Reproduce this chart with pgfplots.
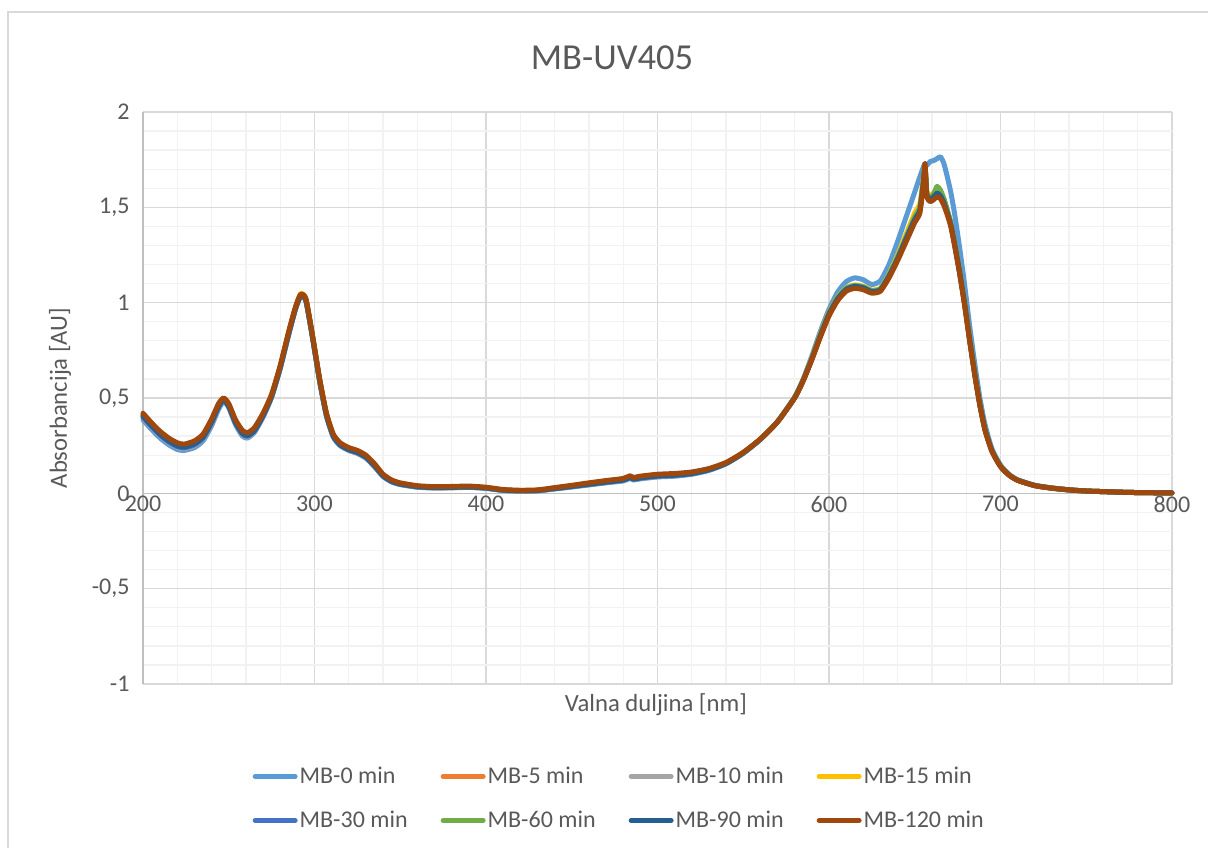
\documentclass[border=0pt]{standalone}
\usepackage{pgfplots}
\pgfplotsset{compat=1.18}
\usepackage{pgfplotstable}
\usepackage{fontspec}
\setmainfont{Carlito}

\definecolor{txtgray}{HTML}{595959}
\definecolor{axgray}{HTML}{BFBFBF}
\definecolor{majgrid}{HTML}{D9D9D9}
\definecolor{mingrid}{HTML}{F2F2F2}
\definecolor{c0}{HTML}{5B9BD5}
\definecolor{c5}{HTML}{ED7D31}
\definecolor{c10}{HTML}{A5A5A5}
\definecolor{c15}{HTML}{FFC000}
\definecolor{c30}{HTML}{4472C4}
\definecolor{c60}{HTML}{70AD47}
\definecolor{c90}{HTML}{255E91}
\definecolor{c120}{HTML}{9E480E}

% wavelength [nm] and absorbance of each sample
\pgfplotstableread{
x   b0    b5    b10   b15   b30   b60   b90   b120
200 0.385 0.41  0.395 0.415 0.40  0.41  0.405 0.42
205 0.335 0.36  0.345 0.365 0.35  0.36  0.355 0.37
210 0.29  0.315 0.30  0.32  0.305 0.315 0.31  0.325
215 0.255 0.28  0.265 0.285 0.27  0.28  0.275 0.29
220 0.23  0.255 0.24  0.26  0.245 0.255 0.25  0.265
224 0.225 0.248 0.233 0.253 0.238 0.248 0.243 0.258
230 0.24  0.265 0.25  0.27  0.255 0.265 0.26  0.275
235 0.275 0.30  0.285 0.305 0.29  0.30  0.295 0.31
240 0.355 0.38  0.365 0.385 0.37  0.38  0.375 0.39
244 0.44  0.46  0.445 0.465 0.45  0.46  0.455 0.47
247 0.48  0.495 0.485 0.50  0.49  0.495 0.49  0.50
250 0.45  0.462 0.452 0.467 0.455 0.462 0.457 0.47
254 0.36  0.375 0.363 0.38  0.368 0.375 0.37  0.385
258 0.30  0.32  0.305 0.325 0.31  0.32  0.315 0.33
261 0.29  0.308 0.295 0.313 0.30  0.308 0.303 0.318
265 0.32  0.335 0.322 0.34  0.327 0.335 0.33  0.345
270 0.40  0.412 0.402 0.417 0.405 0.412 0.408 0.42
275 0.505 0.513 0.505 0.517 0.508 0.513 0.51  0.52
280 0.655 0.663 0.655 0.667 0.658 0.663 0.66  0.67
285 0.835 0.843 0.835 0.847 0.838 0.843 0.84  0.85
289 0.97  0.975 0.968 0.978 0.97  0.975 0.972 0.98
292 1.035 1.04  1.033 1.048 1.036 1.04  1.037 1.045
295 1.01  1.015 1.008 1.02  1.01  1.015 1.012 1.02
299 0.81  0.815 0.808 0.818 0.81  0.815 0.812 0.82
303 0.59  0.595 0.588 0.598 0.59  0.595 0.592 0.60
307 0.405 0.412 0.405 0.417 0.408 0.412 0.41  0.42
311 0.295 0.302 0.295 0.307 0.298 0.302 0.30  0.31
315 0.25  0.257 0.25  0.262 0.253 0.257 0.255 0.265
320 0.225 0.232 0.225 0.237 0.228 0.232 0.23  0.24
325 0.21  0.217 0.21  0.222 0.213 0.217 0.215 0.225
330 0.185 0.192 0.185 0.197 0.188 0.192 0.19  0.20
335 0.14  0.147 0.14  0.152 0.143 0.147 0.145 0.155
340 0.088 0.094 0.089 0.097 0.091 0.094 0.092 0.10
345 0.06  0.065 0.061 0.067 0.062 0.065 0.063 0.07
350 0.046 0.05  0.047 0.052 0.048 0.05  0.049 0.055
360 0.032 0.036 0.033 0.037 0.034 0.036 0.035 0.04
370 0.028 0.031 0.029 0.032 0.03  0.031 0.03  0.035
380 0.029 0.032 0.03  0.033 0.031 0.032 0.031 0.036
390 0.031 0.034 0.032 0.035 0.033 0.034 0.033 0.038
400 0.026 0.029 0.027 0.03  0.028 0.029 0.028 0.032
410 0.015 0.017 0.016 0.018 0.016 0.017 0.017 0.02
420 0.012 0.014 0.013 0.015 0.013 0.014 0.014 0.016
430 0.013 0.015 0.014 0.016 0.015 0.015 0.015 0.018
440 0.023 0.026 0.024 0.027 0.025 0.026 0.025 0.03
450 0.033 0.037 0.035 0.038 0.036 0.037 0.036 0.042
460 0.044 0.049 0.046 0.05  0.047 0.049 0.048 0.055
470 0.055 0.06  0.057 0.062 0.058 0.06  0.059 0.067
480 0.065 0.071 0.067 0.073 0.069 0.071 0.07  0.078
484 0.078 0.085 0.08  0.087 0.082 0.085 0.083 0.092
486 0.07  0.076 0.072 0.078 0.074 0.076 0.075 0.083
490 0.076 0.083 0.078 0.085 0.08  0.083 0.081 0.09
500 0.086 0.093 0.088 0.095 0.09  0.093 0.091 0.10
510 0.09  0.097 0.092 0.099 0.094 0.097 0.095 0.104
520 0.10  0.106 0.102 0.107 0.103 0.106 0.104 0.112
530 0.12  0.125 0.122 0.126 0.123 0.125 0.124 0.13
540 0.155 0.158 0.156 0.159 0.157 0.158 0.157 0.162
550 0.21  0.212 0.211 0.213 0.211 0.212 0.212 0.215
560 0.283 0.284 0.283 0.285 0.284 0.284 0.284 0.285
570 0.376 0.376 0.375 0.377 0.375 0.376 0.375 0.375
580 0.505 0.503 0.502 0.504 0.502 0.503 0.502 0.50
585 0.60  0.595 0.593 0.597 0.593 0.595 0.593 0.59
590 0.72  0.708 0.705 0.71  0.705 0.708 0.705 0.70
595 0.85  0.832 0.828 0.835 0.828 0.832 0.828 0.82
600 0.965 0.945 0.94  0.948 0.94  0.945 0.94  0.93
605 1.055 1.025 1.02  1.028 1.02  1.025 1.02  1.01
610 1.11  1.075 1.07  1.078 1.07  1.075 1.07  1.06
615 1.13  1.09  1.085 1.093 1.085 1.09  1.085 1.075
620 1.12  1.083 1.078 1.086 1.078 1.083 1.078 1.068
625 1.095 1.063 1.058 1.066 1.058 1.063 1.058 1.05
630 1.115 1.073 1.068 1.076 1.068 1.073 1.068 1.06
635 1.20  1.145 1.14  1.15  1.14  1.145 1.14  1.13
640 1.32  1.24  1.235 1.25  1.235 1.24  1.23  1.22
645 1.45  1.35  1.34  1.36  1.34  1.345 1.335 1.32
650 1.58  1.45  1.44  1.47  1.44  1.45  1.435 1.42
653 1.66  1.50  1.49  1.52  1.49  1.50  1.485 1.47
655 1.71  1.64  1.63  1.65  1.63  1.64  1.625 1.62
656 1.73  1.72  1.71  1.72  1.715 1.72  1.71  1.73
657 1.72  1.58  1.57  1.585 1.57  1.575 1.565 1.56
659 1.74  1.55  1.545 1.56  1.545 1.55  1.54  1.53
661 1.745 1.565 1.56  1.575 1.565 1.57  1.555 1.54
663 1.755 1.59  1.57  1.585 1.60  1.61  1.575 1.555
665 1.765 1.575 1.56  1.57  1.58  1.59  1.56  1.545
667 1.73  1.54  1.525 1.535 1.54  1.545 1.525 1.51
669 1.66  1.48  1.47  1.478 1.48  1.485 1.47  1.46
671 1.58  1.415 1.41  1.415 1.415 1.42  1.41  1.40
673 1.48  1.325 1.32  1.325 1.325 1.33  1.32  1.31
676 1.30  1.175 1.17  1.175 1.175 1.178 1.17  1.16
679 1.10  1.005 1.0   1.005 1.005 1.007 1.0   0.99
682 0.88  0.812 0.808 0.812 0.812 0.815 0.808 0.80
685 0.68  0.63  0.627 0.63  0.63  0.632 0.627 0.62
688 0.50  0.467 0.465 0.467 0.467 0.468 0.465 0.46
691 0.36  0.336 0.335 0.336 0.336 0.337 0.335 0.33
695 0.235 0.224 0.223 0.224 0.224 0.225 0.223 0.22
700 0.148 0.143 0.142 0.143 0.143 0.143 0.142 0.14
705 0.10  0.097 0.096 0.097 0.097 0.097 0.096 0.095
710 0.071 0.069 0.069 0.069 0.069 0.069 0.069 0.068
720 0.042 0.041 0.041 0.041 0.041 0.041 0.041 0.04
730 0.028 0.028 0.027 0.028 0.027 0.028 0.027 0.027
740 0.019 0.018 0.018 0.018 0.018 0.018 0.018 0.018
750 0.012 0.012 0.012 0.012 0.012 0.012 0.012 0.012
760 0.009 0.009 0.009 0.009 0.009 0.009 0.009 0.009
770 0.006 0.006 0.006 0.006 0.006 0.006 0.006 0.006
780 0.004 0.004 0.004 0.004 0.004 0.004 0.004 0.004
790 0.003 0.003 0.003 0.003 0.003 0.003 0.003 0.003
800 0.002 0.002 0.002 0.002 0.002 0.002 0.002 0.002
}\spectra

\begin{document}
\begin{tikzpicture}[x=1pt,y=1pt]
\useasboundingbox (0,0) rectangle (1208,847);
\draw[majgrid, line width=1.3pt] (8,835) rectangle (1240,-30);
\node[font=\fontsize{36.6}{44}\selectfont, text=txtgray] at (612,789) {MB-UV405};
\begin{axis}[
    at={(143pt,163pt)}, anchor=south west,
    scale only axis, width=1029pt, height=572pt,
    xmin=200, xmax=800, ymin=-1, ymax=2,
    axis x line=middle, axis y line=left,
    axis line style={-, axgray, line width=1.5pt},
    hide obscured x ticks=false, hide obscured y ticks=false,
    xtick={200,300,...,800},
    xticklabels={200,300,400,500,600,700,800},
    ytick={-1,-0.5,...,2},
    yticklabels={-1,{-0,5},0,{0,5},1,{1,5},2},
    minor x tick num=4, minor y tick num=4,
    major tick length=0pt, minor tick length=0pt,
    grid=both,
    major grid style={majgrid, line width=1.3pt},
    minor grid style={mingrid, line width=1.3pt},
    tick label style={font=\fontsize{24}{29}\selectfont, text=txtgray},
    xticklabel style={yshift=1pt},
    yticklabel style={xshift=-10pt},
    xlabel={Valna duljina [nm]},
    ylabel={Absorbancija [AU]},
    label style={font=\fontsize{24.7}{30}\selectfont, text=txtgray},
    xlabel style={at={(axis description cs:0.4985,-0.0367)}, anchor=center},
    ylabel style={at={(axis description cs:-0.0807,0.5)}, anchor=center, rotate=0},
    legend columns=4,
    legend image code/.code={\draw[#1] (0pt,0pt) -- (40pt,0pt);},
    legend style={at={(axis description cs:0.472,-0.2)}, anchor=center,
        draw=none, fill=none, font=\fontsize{24}{29}\selectfont, text=txtgray,
        row sep=22pt, cells={anchor=west},
        /tikz/every even column/.append style={column sep=0pt}},
    every axis plot/.append style={line width=5pt, line join=round, line cap=round,
        smooth, tension=0.35},
    clip=false,
]
\addplot[c0]   table[x=x, y=b0]   {\spectra};
\addplot[c5]   table[x=x, y=b5]   {\spectra};
\addplot[c10]  table[x=x, y=b10]  {\spectra};
\addplot[c15]  table[x=x, y=b15]  {\spectra};
\addplot[c30]  table[x=x, y=b30]  {\spectra};
\addplot[c60]  table[x=x, y=b60]  {\spectra};
\addplot[c90]  table[x=x, y=b90]  {\spectra};
\addplot[c120] table[x=x, y=b120] {\spectra};
\legend{\makebox[139pt][l]{MB-0 min},\makebox[139pt][l]{MB-5 min},
        \makebox[139pt][l]{MB-10 min},\makebox[139pt][l]{MB-15 min},
        \makebox[139pt][l]{MB-30 min},\makebox[139pt][l]{MB-60 min},
        \makebox[139pt][l]{MB-90 min},\makebox[139pt][l]{MB-120 min}}
\end{axis}
\end{tikzpicture}
\end{document}
